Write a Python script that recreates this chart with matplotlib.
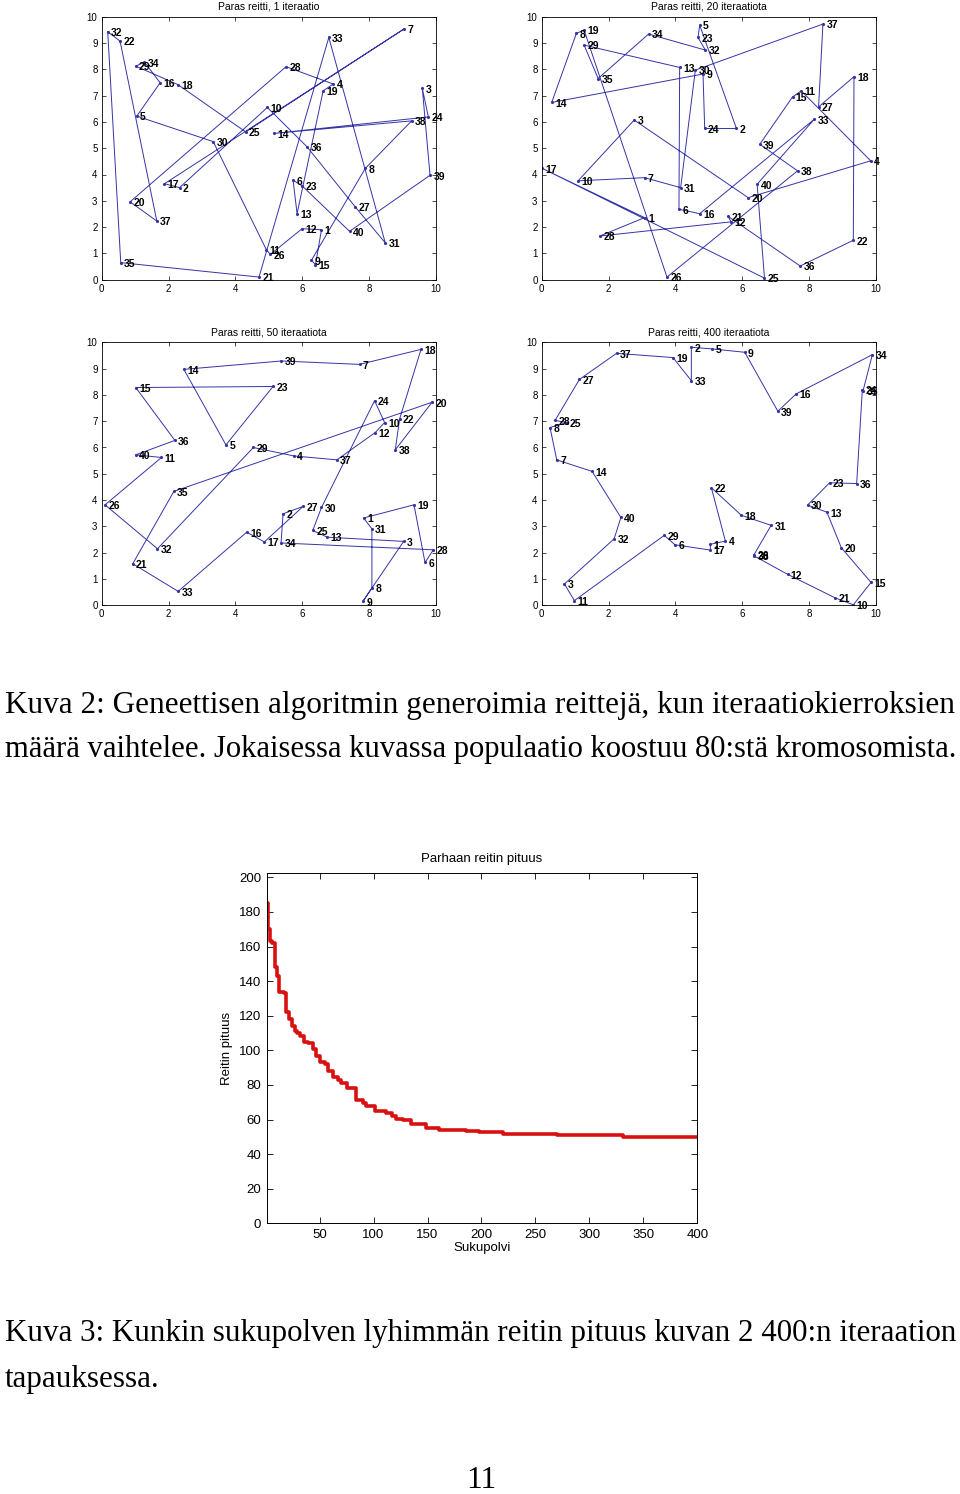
import matplotlib
matplotlib.use("Agg")
import matplotlib.pyplot as plt
import numpy as np

plt.rcParams['font.family'] = ['Liberation Sans', 'DejaVu Sans']

# city coordinates, index = city number - 1
x1 = [6.58, 2.33, 9.60, 6.93, 1.05, 5.73, 9.06, 7.89, 6.28, 4.96,
      4.93, 6.00, 5.85, 5.15, 6.40, 1.75, 1.88, 2.28, 6.63, 0.85,
      4.71, 0.55, 6.00, 9.78, 4.31, 5.05, 7.59, 5.52, 1.02, 3.34,
      8.49, 0.18, 6.80, 1.28, 0.57, 6.15, 1.65, 9.28, 9.83, 7.42]
y1 = [1.90, 3.50, 7.27, 7.44, 6.22, 3.78, 9.54, 4.23, 0.74, 6.55,
      1.14, 1.94, 2.51, 5.56, 0.57, 7.49, 3.65, 7.42, 7.18, 2.96,
      0.10, 9.07, 3.57, 6.19, 5.62, 0.96, 2.77, 8.10, 8.12, 5.25,
      1.40, 9.43, 9.21, 8.27, 0.65, 5.05, 2.23, 6.04, 3.97, 1.84]
route1 = [32, 22, 37, 20, 28, 4, 19, 13, 6, 23, 40, 39, 3, 24, 14, 38, 8, 9, 15, 1,
          12, 26, 11, 30, 5, 16, 34, 29, 18, 25, 7, 17, 2, 10, 36, 27, 31, 33, 21, 35]

x2 = [3.08, 5.83, 2.77, 9.85, 4.73, 4.11, 3.08, 1.04, 4.83, 1.09,
      7.77, 5.67, 4.13, 0.30, 7.51, 4.73, 0.02, 9.35, 1.27, 6.18,
      5.58, 9.33, 4.68, 4.88, 6.67, 3.75, 8.29, 1.74, 1.27, 4.60,
      4.16, 4.90, 8.16, 3.20, 1.69, 7.74, 8.42, 7.66, 6.53, 6.45]
y2 = [2.36, 5.75, 6.07, 4.52, 9.68, 2.68, 3.88, 9.37, 7.82, 3.76,
      7.18, 2.20, 8.07, 6.74, 6.95, 2.51, 4.23, 7.72, 9.49, 3.12,
      2.41, 1.50, 9.21, 5.75, 0.06, 0.10, 6.57, 1.66, 8.92, 7.97,
      3.50, 8.73, 6.10, 9.34, 7.65, 0.52, 9.72, 4.14, 5.15, 3.63]
route2 = [8, 14, 9, 24, 2, 5, 23, 32, 34, 35, 29, 13, 6, 16, 33, 40, 25, 17, 1, 28,
          12, 21, 36, 22, 18, 27, 37, 30, 31, 7, 10, 3, 20, 4, 11, 15, 39, 38, 26, 19]

x3 = [7.84, 5.43, 9.04, 5.75, 3.72, 9.68, 7.72, 8.09, 7.82, 8.47,
      1.79, 8.19, 6.75, 2.46, 1.02, 4.34, 4.87, 9.56, 9.35, 9.89,
      0.93, 8.92, 5.13, 8.17, 6.32, 0.10, 6.03, 9.93, 4.54, 6.58,
      8.09, 1.67, 2.29, 5.37, 2.16, 2.19, 7.04, 8.79, 5.38, 1.02]
y3 = [3.32, 3.48, 2.43, 5.68, 6.10, 1.63, 9.16, 0.66, 0.15, 6.95,
      5.62, 6.57, 2.59, 8.97, 8.28, 2.78, 2.41, 9.73, 3.82, 7.72,
      1.58, 7.09, 8.32, 7.78, 2.85, 3.82, 3.76, 2.11, 6.00, 3.72,
      2.91, 2.15, 0.53, 2.37, 4.33, 6.27, 5.53, 5.91, 9.29, 5.72]
route3 = [14, 39, 7, 18, 22, 38, 20, 35, 21, 33, 16, 17, 27, 2, 34, 28, 6, 19, 1, 31,
          8, 9, 3, 13, 25, 30, 24, 10, 12, 37, 4, 29, 32, 26, 11, 40, 36, 15, 23, 5]

x4 = [5.05, 4.48, 0.68, 5.50, 5.10, 3.99, 0.45, 0.25, 6.08, 9.33,
      0.98, 7.36, 8.54, 1.51, 9.86, 7.62, 5.05, 5.98, 3.93, 8.97,
      8.79, 5.08, 8.62, 9.60, 0.75, 6.35, 1.13, 0.40, 3.67, 7.96,
      6.87, 2.17, 4.48, 9.90, 9.62, 9.43, 2.24, 6.37, 7.07, 2.37]
y4 = [2.32, 9.81, 0.81, 2.44, 9.75, 2.30, 5.53, 6.76, 9.62, 0.02,
      0.18, 1.18, 3.54, 5.09, 0.87, 8.04, 2.10, 3.42, 9.42, 2.19,
      0.28, 4.47, 4.66, 8.19, 6.95, 1.91, 8.59, 7.03, 2.66, 3.81,
      3.04, 2.53, 8.54, 9.53, 8.15, 4.63, 9.58, 1.87, 7.38, 3.34]
route4 = [27, 28, 25, 8, 7, 14, 40, 32, 3, 11, 29, 6, 17, 1, 4, 22, 18, 31, 26, 38,
          12, 21, 10, 15, 20, 13, 30, 23, 36, 24, 35, 34, 16, 39, 9, 5, 2, 33, 19, 37]

titles = ['Paras reitti, 1 iteraatio', 'Paras reitti, 20 iteraatiota',
          'Paras reitti, 50 iteraatiota', 'Paras reitti, 400 iteraatiota']

# best route length per generation (step breakpoints)
gen = [1, 2, 4, 6, 9, 11, 12, 17, 19, 22, 24, 27, 29, 32, 36, 39, 44, 47, 50, 55,
       58, 62, 67, 70, 75, 84, 90, 93, 101, 112, 117, 121, 127, 135, 149, 161, 186,
       198, 220, 270, 331, 400]
best = [185, 170, 163, 162, 148, 143, 134, 133, 122, 118, 114, 111, 110, 108, 105,
        104, 101, 97, 93, 92, 88, 84.5, 83, 81, 78, 71.5, 69.5, 68, 65, 63.5, 62,
        60.5, 59.7, 57.5, 55, 54, 53.5, 52.6, 51.4, 50.9, 50.1, 50.1]

fig = plt.figure(figsize=(9.6, 14.94), dpi=100)
W, H = 960.0, 1494.0

boxes = [(101.7, 16.7), (541.7, 16.7), (101.7, 342.3), (541.7, 342.3)]
panels = [(x1, y1, route1), (x2, y2, route2), (x3, y3, route3), (x4, y4, route4)]
line_col = '#3434a6'

for (px, py), (xs, ys, rt), title in zip(boxes, panels, titles):
    ax = fig.add_axes([px / W, 1 - (py + 263) / H, 334 / W, 263 / H])
    xs = np.array(xs)
    ys = np.array(ys)
    order = np.array(rt + [rt[0]]) - 1
    ax.plot(xs[order], ys[order], '-', color=line_col, lw=0.7)
    ax.plot(xs, ys, '.', color=line_col, ms=2.5)
    for i in range(len(xs)):
        ax.text(xs[i] + 0.1, ys[i] - 0.05, str(i + 1), fontsize=7.5, fontweight='bold',
                va='center', ha='left', color='black')
    ax.set_xlim(0, 10)
    ax.set_ylim(0, 10)
    ax.set_xticks(np.arange(0, 11, 2))
    ax.set_yticks(np.arange(0, 11, 1))
    ax.tick_params(direction='in', top=True, right=True, length=3, width=0.5,
                   labelsize=7, pad=3)
    for s in ax.spines.values():
        s.set_linewidth(0.6)
    ax.set_title(title, fontsize=7.5, pad=5)

# convergence plot
ax = fig.add_axes([266.7 / W, 1 - 1223.3 / H, 430.6 / W, 350.6 / H])
ax.plot(gen, best, drawstyle='steps-post', color='#d81010', lw=2.6)
ax.set_xlim(1, 400)
ax.set_ylim(0, 202.7)
ax.set_xticks(np.arange(50, 401, 50))
ax.set_yticks(np.arange(0, 201, 20))
ax.tick_params(direction='in', top=True, right=True, length=4, width=0.6,
               labelsize=9.5, pad=4)
for s in ax.spines.values():
    s.set_linewidth(0.7)
ax.set_title('Parhaan reitin pituus', fontsize=9.5, pad=8)
ax.set_xlabel('Sukupolvi', fontsize=9.5, labelpad=1)
ax.set_ylabel('Reitin pituus', fontsize=9.5, labelpad=4)

# captions
renderer = fig.canvas.get_renderer()


def fit_line(s, ypx, width_px=None, size=None):
    t = fig.text(5 / W, 1 - ypx / H, s, family=['Liberation Serif', 'DejaVu Serif'],
                 fontsize=size or 20, va='center', ha='left')
    if width_px:
        w = t.get_window_extent(renderer).width
        t.set_fontsize(t.get_fontsize() * width_px / w)
    return t.get_fontsize()


fs = fit_line('Kuva 2: Geneettisen algoritmin generoimia reittejä, kun iteraatiokierroksien', 705, 953)
fit_line('määrä vaihtelee. Jokaisessa kuvassa populaatio koostuu 80:stä kromosomista.', 750, 952)
fs3 = fit_line('Kuva 3: Kunkin sukupolven lyhimmän reitin pituus kuvan 2 400:n iteraation', 1333, 953)
fit_line('tapauksessa.', 1379, size=fs3)
fig.text(481 / W, 1 - 1481 / H, '11', family=['Liberation Serif', 'DejaVu Serif'],
         fontsize=fs, va='center', ha='center')

fig.savefig('out.png', dpi=100)
